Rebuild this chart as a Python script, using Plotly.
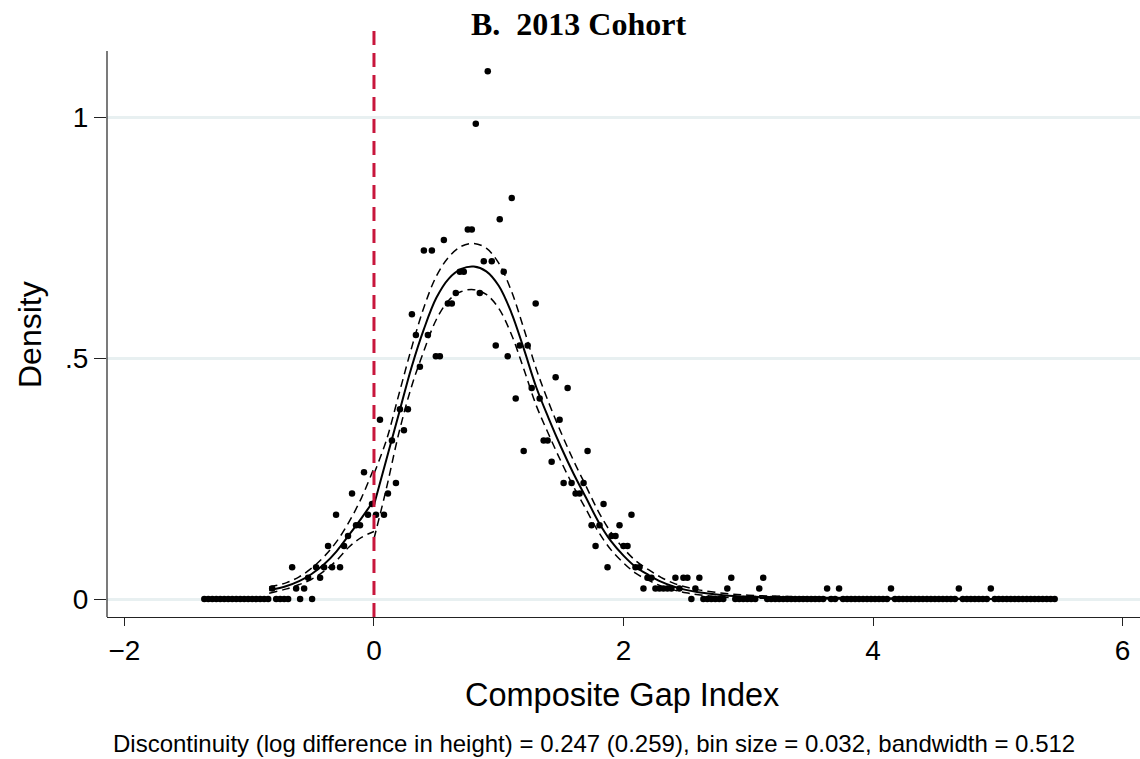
import plotly.graph_objects as go

# ---------------- data ----------------
CUTOFF = 0.0
BIN_SIZE = 0.032

# binned density, bins left of the cutoff (ascending x)
left_density = [
    0, 0, 0, 0, 0, 0, 0, 0, 0, 0, 0, 0, 0, 0, 0, 0, 0,
    0.022, 0, 0, 0, 0,
    0.066, 0.022, 0, 0.022, 0.044, 0, 0.066, 0.044, 0.066, 0.110,
    0.066, 0.175, 0.066, 0.110, 0.131, 0.219, 0.153, 0.153, 0.263, 0.175, 0.197,
]

# binned density, bins right of the cutoff (ascending x)
right_density = [
    0.175, 0.372, 0.175, 0.219, 0.329, 0.241, 0.394, 0.350, 0.394, 0.591,
    0.548, 0.482, 0.723, 0.548, 0.723, 0.504, 0.504, 0.745, 0.613, 0.613,
    0.635, 0.679, 0.679, 0.767, 0.767, 0.986, 0.635, 0.701, 1.095, 0.701,
    0.526, 0.788, 0.679, 0.504, 0.832, 0.416, 0.526, 0.307, 0.526, 0.438,
    0.613, 0.416, 0.329, 0.329, 0.285, 0.460, 0.372, 0.241, 0.438, 0.241,
    0.219, 0.219, 0.241, 0.307, 0.153, 0.110, 0.153, 0.197, 0.066, 0.131,
    0.131, 0.153, 0.110, 0.110, 0.175, 0.066, 0.066, 0.022, 0.044, 0.044,
    0.022, 0.022, 0.022, 0.022, 0.022, 0.044, 0.022, 0.044, 0.044, 0,
    0.022, 0.044, 0, 0, 0, 0, 0, 0, 0.022, 0.044,
    0, 0, 0, 0, 0, 0, 0.022, 0.044, 0, 0,
    0, 0, 0, 0, 0, 0, 0, 0, 0, 0,
    0, 0, 0, 0.022, 0, 0, 0.022, 0, 0, 0,
    0, 0, 0, 0, 0, 0, 0, 0, 0, 0.022,
    0, 0, 0, 0, 0, 0, 0, 0, 0, 0,
    0, 0, 0, 0, 0, 0, 0.022, 0, 0, 0,
    0, 0, 0, 0, 0.022, 0, 0, 0, 0, 0,
    0, 0, 0, 0, 0, 0, 0, 0, 0, 0,
    0,
]

# local linear density fit and 95% CI, left of cutoff
fit_left_x = [-0.84, -0.7, -0.6, -0.5, -0.4, -0.3, -0.2, -0.1, 0.0]
fit_left = [0.018, 0.027, 0.037, 0.052, 0.072, 0.099, 0.133, 0.168, 0.205]
ci_left_hi = [0.025, 0.034, 0.046, 0.064, 0.088, 0.119, 0.160, 0.210, 0.272]
ci_left_lo = [0.012, 0.021, 0.030, 0.041, 0.058, 0.080, 0.108, 0.128, 0.140]

# local linear density fit and 95% CI, right of cutoff
fit_right_x = [0.0, 0.1, 0.2, 0.3, 0.4, 0.5, 0.6, 0.7, 0.8, 0.9, 1.0, 1.1, 1.2,
               1.3, 1.4, 1.5, 1.6, 1.7, 1.8, 1.9, 2.0, 2.1, 2.2, 2.3, 2.4, 2.5,
               2.6, 2.8, 3.0, 3.5, 4.0, 5.0]
fit_right = [0.195, 0.290, 0.385, 0.480, 0.560, 0.625, 0.665, 0.685, 0.690, 0.680,
             0.650, 0.595, 0.520, 0.440, 0.375, 0.315, 0.260, 0.210, 0.160, 0.120,
             0.090, 0.066, 0.050, 0.036, 0.026, 0.019, 0.014, 0.008, 0.005, 0.002,
             0.001, 0.0]
ci_right_hi = [0.260, 0.330, 0.425, 0.520, 0.605, 0.670, 0.710, 0.732, 0.738, 0.728,
               0.697, 0.640, 0.562, 0.478, 0.408, 0.345, 0.287, 0.234, 0.181, 0.138,
               0.105, 0.079, 0.061, 0.045, 0.033, 0.025, 0.019, 0.012, 0.008, 0.004,
               0.002, 0.001]
ci_right_lo = [0.125, 0.230, 0.345, 0.440, 0.515, 0.580, 0.620, 0.638, 0.642, 0.632,
               0.603, 0.550, 0.478, 0.402, 0.342, 0.285, 0.233, 0.186, 0.139, 0.102,
               0.075, 0.053, 0.039, 0.027, 0.019, 0.013, 0.009, 0.004, 0.002, 0.0005,
               0.0, 0.0]

x_ticks = [-2, 0, 2, 4, 6]
y_ticks = [0, 0.5, 1]
y_tick_text = ["0", ".5", "1"]

title_text = "<b>B.  2013 Cohort</b>"
x_title = "Composite Gap Index"
y_title = "Density"
caption = ("Discontinuity (log difference in height) = 0.247 (0.259), "
           "bin size = 0.032, bandwidth = 0.512")

# bin centres from bin size
n_left = len(left_density)
left_x = [round(CUTOFF - BIN_SIZE * (n_left - i - 0.5), 4) for i in range(n_left)]
right_x = [round(CUTOFF + BIN_SIZE * (i + 0.5), 4) for i in range(len(right_density))]

# ---------------- figure ----------------
SANS = "Liberation Sans, Arial, sans-serif"
SERIF = "Liberation Serif, Times New Roman, serif"

fig = go.Figure()

line_solid = dict(color="black", width=2.0, shape="spline")
line_dash = dict(color="black", width=1.5, dash="8px,5px", shape="spline")

for xs, ys, ln in [
    (fit_left_x, ci_left_hi, line_dash),
    (fit_left_x, ci_left_lo, line_dash),
    (fit_left_x, fit_left, line_solid),
    (fit_right_x, ci_right_hi, line_dash),
    (fit_right_x, ci_right_lo, line_dash),
    (fit_right_x, fit_right, line_solid),
]:
    fig.add_trace(go.Scatter(x=xs, y=ys, mode="lines", line=ln,
                             showlegend=False, hoverinfo="skip"))

fig.add_trace(go.Scatter(
    x=left_x + right_x, y=left_density + right_density, mode="markers",
    marker=dict(color="black", size=6.5, line=dict(width=0)),
    showlegend=False))

Y_LO, Y_HI = -0.0373, 1.187
Y_AXIS_TOP = 1.137

# cutoff line
fig.add_shape(type="line", xref="x", yref="y", x0=CUTOFF, x1=CUTOFF,
              y0=Y_LO, y1=Y_HI, line=dict(color="#C8163C", width=3, dash="14px,8px"),
              layer="above")
# y axis line (shorter than plot region, as in original)
fig.add_shape(type="line", xref="paper", yref="y", x0=0, x1=0,
              y0=Y_LO, y1=Y_AXIS_TOP, line=dict(color="#222222", width=1.2))

PLOT_W, PLOT_H = 1033, 590
fig.update_layout(
    width=1140, height=759,
    margin=dict(l=107, r=0, t=27, b=142),
    paper_bgcolor="white", plot_bgcolor="white",
    showlegend=False,
    font=dict(family=SANS, color="black"),
    annotations=[
        dict(text=title_text, xref="paper", yref="paper",
             x=(578 - 107) / PLOT_W, y=1 + (27 - 24) / PLOT_H,
             xanchor="center", yanchor="middle",
             showarrow=False, font=dict(family=SERIF, size=32, color="black")),
        dict(text=x_title, xref="paper", yref="paper",
             x=(622 - 107) / PLOT_W, y=(617 - 695) / PLOT_H,
             showarrow=False, font=dict(family=SANS, size=32.5, color="black"),
             xanchor="center", yanchor="middle"),
        dict(text=y_title, xref="paper", yref="paper",
             x=(30 - 107) / PLOT_W, y=(617 - 335) / PLOT_H,
             showarrow=False, textangle=-90,
             font=dict(family=SANS, size=32, color="black"),
             xanchor="center", yanchor="middle"),
        dict(text=caption, xref="paper", yref="paper",
             x=(594 - 107) / PLOT_W, y=(617 - 743) / PLOT_H,
             showarrow=False, font=dict(family=SANS, size=24, color="black"),
             xanchor="center", yanchor="middle"),
    ],
)

fig.update_xaxes(
    range=[-2.14, 6.14], tickvals=x_ticks, showgrid=False, zeroline=False,
    showline=True, linecolor="#222222", linewidth=1.2,
    ticks="outside", ticklen=8, tickcolor="#222222", tickwidth=1.2,
    tickfont=dict(family=SANS, size=28, color="black"),
)
fig.update_yaxes(
    range=[Y_LO, Y_HI], tickvals=y_ticks, ticktext=y_tick_text,
    showgrid=True, gridcolor="#E8F0F1", gridwidth=2.5, zeroline=False,
    showline=False,
    ticks="outside", ticklen=12, tickcolor="#222222", tickwidth=1.2,
    tickfont=dict(family=SANS, size=28, color="black"),
)

fig.write_html("out.html")
